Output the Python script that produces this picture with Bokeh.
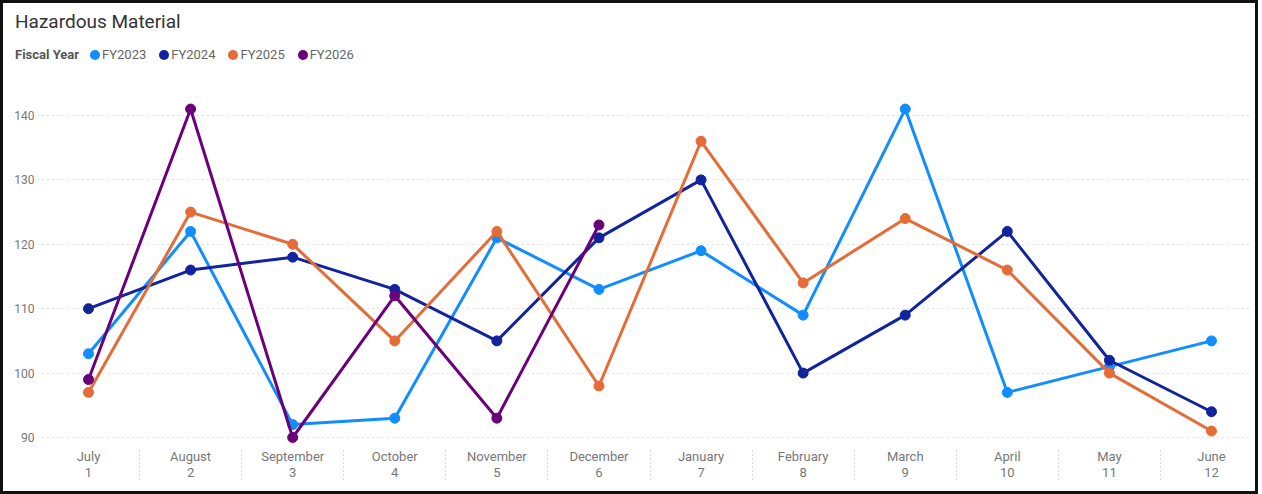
from bokeh.plotting import figure
from bokeh.layouts import column
from bokeh.models import FixedTicker, Range1d, Div
from bokeh.embed import file_html
from bokeh.resources import INLINE

months = ["July", "August", "September", "October", "November", "December",
          "January", "February", "March", "April", "May", "June"]
month_num = list(range(1, 13))
fy2023 = [103, 122, 92, 93, 121, 113, 119, 109, 141, 97, 101, 105]
fy2024 = [110, 116, 118, 113, 105, 121, 130, 100, 109, 122, 102, 94]
fy2025 = [97, 125, 120, 105, 122, 98, 136, 114, 124, 116, 100, 91]
fy2026 = [99, 141, 90, 112, 93, 123]
series_names = ["FY2023", "FY2024", "FY2025", "FY2026"]
series_values = [fy2023, fy2024, fy2025, fy2026]
colors = ["#118DFF", "#12239E", "#E66C37", "#6B007B"]
y_ticks = [90, 100, 110, 120, 130, 140]
chart_title = "Hazardous Material"
legend_title = "Fiscal Year"

FONT = "Roboto"
W = 1258

# ---- header: title + legend (HTML text) ----
items_html = "".join(
    f'<span style="display:inline-block;width:10px;height:10px;border-radius:50%;'
    f'background:{c};margin-right:2px;"></span>'
    f'<span style="margin-right:13px;">{n}</span>'
    for n, c in zip(series_names, colors))
header_html = (
    f'<div style="position:relative;width:{W}px;height:72px;font-family:{FONT};">'
    f'<div style="position:absolute;left:15px;top:10px;font-size:19px;line-height:24px;'
    f'color:#333333;white-space:nowrap;">{chart_title}</div>'
    f'<div style="position:absolute;left:15px;top:47px;height:16px;line-height:16px;'
    f'font-size:13px;color:#666666;display:flex;align-items:center;white-space:nowrap;">'
    f'<span style="font-weight:bold;color:#555555;margin-right:11px;">{legend_title}</span>'
    f'{items_html}</div></div>'
)
header = Div(text=header_html, width=W, height=72, margin=0)

# ---- main chart ----
p = figure(width=W, height=422, output_backend="svg", toolbar_location=None,
           title=None, margin=0,
           x_range=Range1d(0.5004, 12.382), y_range=Range1d(88.447, 146.677),
           min_border_left=37, min_border_right=8, min_border_bottom=47,
           min_border_top=0, background_fill_color=None,
           border_fill_color=None)
p.outline_line_color = None

for name, vals, col in zip(series_names, series_values, colors):
    xs = month_num[:len(vals)]
    p.line(xs, vals, line_color=col, line_width=3)
    p.scatter(xs, vals, size=10, fill_color=col, line_color=col)

p.xaxis.ticker = FixedTicker(ticks=month_num, minor_ticks=[m - 0.5 for m in month_num])
p.xaxis.major_label_overrides = {m: f"{name}\n{m}" for m, name in zip(month_num, months)}
p.xaxis.axis_line_color = None
p.xaxis.major_tick_line_color = None
p.xaxis.major_tick_out = 0
p.xaxis.major_tick_in = 0
p.xaxis.minor_tick_in = 0
p.xaxis.minor_tick_out = 32
p.xaxis.minor_tick_line_color = "#b8b8b8"
p.xaxis.minor_tick_line_dash = "1 3"
p.xaxis.major_label_standoff = -31
p.xaxis.major_label_text_font = FONT
p.xaxis.major_label_text_font_size = "13px"
p.xaxis.major_label_text_color = "#777777"
p.xaxis.major_label_text_line_height = 1.1

p.yaxis.ticker = FixedTicker(ticks=y_ticks)
p.yaxis.axis_line_color = None
p.yaxis.major_tick_line_color = None
p.yaxis.major_tick_out = 0
p.yaxis.major_tick_in = 0
p.yaxis.minor_tick_line_color = None
p.yaxis.major_label_standoff = 3
p.yaxis.major_label_text_font = FONT
p.yaxis.major_label_text_font_size = "12px"
p.yaxis.major_label_text_color = "#777777"

p.xgrid.grid_line_color = None
p.ygrid.grid_line_color = "#c8c8c8"
p.ygrid.grid_line_dash = "1 4"
p.ygrid.grid_line_width = 1

layout = column(header, p, spacing=0, width=W, height=494)
layout.styles = {"outline": "3px solid #111111", "outline-offset": "-3px",
                 "background-color": "white"}

open("out.html", "w").write(file_html(layout, INLINE))
